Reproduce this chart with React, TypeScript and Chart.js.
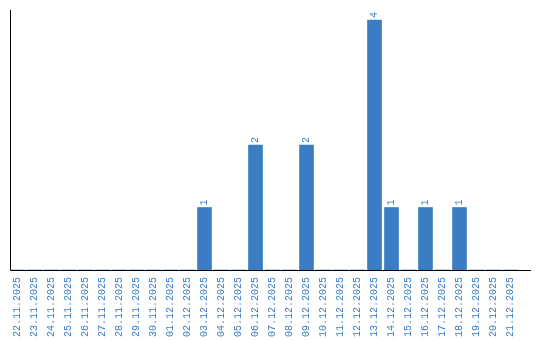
import React, { useEffect, useRef } from "react";
import { Chart, registerables } from "chart.js";

Chart.register(...registerables);

const categories: string[] = [
  "22.11.2025", "23.11.2025", "24.11.2025", "25.11.2025", "26.11.2025",
  "27.11.2025", "28.11.2025", "29.11.2025", "30.11.2025", "01.12.2025",
  "02.12.2025", "03.12.2025", "04.12.2025", "05.12.2025", "06.12.2025",
  "07.12.2025", "08.12.2025", "09.12.2025", "10.12.2025", "11.12.2025",
  "12.12.2025", "13.12.2025", "14.12.2025", "15.12.2025", "16.12.2025",
  "17.12.2025", "18.12.2025", "19.12.2025", "20.12.2025", "21.12.2025",
];

const counts: number[] = [
  0, 0, 0, 0, 0,
  0, 0, 0, 0, 0,
  0, 1, 0, 0, 2,
  0, 0, 2, 0, 0,
  0, 4, 1, 0, 1,
  0, 1, 0, 0, 0,
];

const BLUE = "#3a7dc3";
const FONT = '"Liberation Mono", "DejaVu Sans Mono", monospace';

const axisLinesPlugin = {
  id: "axisLines",
  afterDatasetsDraw(chart: any) {
    const { ctx, chartArea } = chart;
    const { left, right, top, bottom } = chartArea;
    ctx.save();
    ctx.strokeStyle = "#000000";
    ctx.lineWidth = 1;
    ctx.beginPath();
    ctx.moveTo(left + 1.5, top);
    ctx.lineTo(left + 1.5, bottom + 0.5);
    ctx.lineTo(right + 12, bottom + 0.5);
    ctx.stroke();
    ctx.restore();
  },
};

const barLabelsPlugin = {
  id: "barLabels",
  afterDatasetsDraw(chart: any) {
    const { ctx } = chart;
    const meta = chart.getDatasetMeta(0);
    const data = chart.data.datasets[0].data as number[];
    ctx.save();
    ctx.fillStyle = BLUE;
    ctx.font = `10px ${FONT}`;
    ctx.textAlign = "left";
    ctx.textBaseline = "middle";
    meta.data.forEach((bar: any, i: number) => {
      const v = data[i];
      if (!v) return;
      ctx.save();
      ctx.translate(bar.x, bar.y - 2);
      ctx.rotate(-Math.PI / 2);
      ctx.fillText(String(v), 0, 0);
      ctx.restore();
    });
    ctx.restore();
  },
};

export default function App() {
  const canvasRef = useRef<HTMLCanvasElement | null>(null);

  useEffect(() => {
    if (!canvasRef.current) return;
    const chart = new Chart(canvasRef.current, {
      type: "bar",
      data: {
        labels: categories,
        datasets: [
          {
            data: counts,
            backgroundColor: BLUE,
            borderWidth: 0,
            barThickness: 14,
          },
        ],
      },
      options: {
        responsive: false,
        animation: false,
        devicePixelRatio: 1,
        layout: { padding: { left: 9, right: 21, top: 10, bottom: 0 } },
        plugins: {
          legend: { display: false },
          tooltip: { enabled: false },
          title: { display: false },
        },
        scales: {
          x: {
            grid: { display: false, drawTicks: false },
            border: { display: false },
            ticks: {
              color: BLUE,
              font: { family: FONT, size: 10 },
              minRotation: 90,
              maxRotation: 90,
              autoSkip: false,
              padding: 7,
            },
            afterFit(scale: any) {
              scale.height = 70;
            },
          },
          y: {
            display: false,
            min: 0,
            max: 4.16,
          },
        },
      },
      plugins: [axisLinesPlugin, barLabelsPlugin],
    });
    return () => chart.destroy();
  }, []);

  return (
    <div style={{ position: "absolute", left: 0, top: 0, width: 540, height: 340, background: "#fff" }}>
      <canvas ref={canvasRef} width={540} height={340} style={{ display: "block" }} />
    </div>
  );
}
